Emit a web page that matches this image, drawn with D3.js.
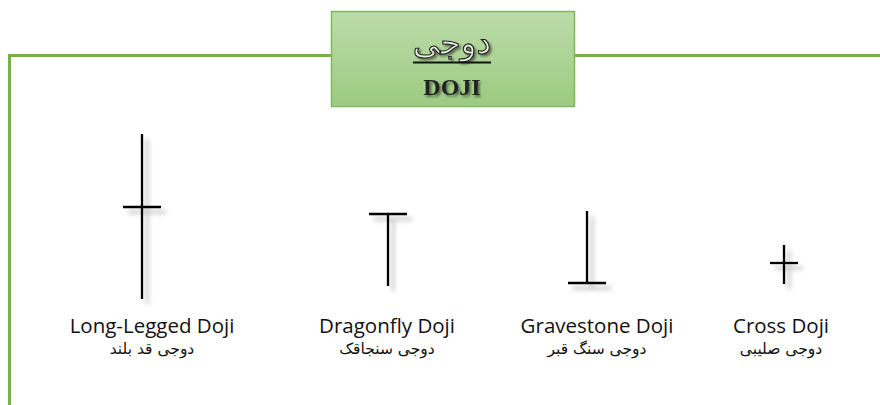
<!DOCTYPE html>
<html>
<head>
<meta charset="utf-8">
<script src="https://cdn.jsdelivr.net/npm/d3@7"></script>
<style>
  html, body { margin: 0; padding: 0; background: #fff; overflow: hidden; }
</style>
</head>
<body>
<div id="chart"></div>
<script>
// Data
var categories = ['Long-Legged Doji', 'Dragonfly Doji', 'Gravestone Doji', 'Cross Doji'];
var persianNames = ['دوجی قد بلند', 'دوجی سنجاقک', 'دوجی سنگ قبر', 'دوجی صلیبی'];
var highs = [166, 86, 89, 55];
var lows = [1, 14, 17, 16];
var bodies = [93, 86, 17, 37]; // open == close
var titleFa = 'دوجی';
var titleEn = 'DOJI';

function Chart() {
	// Exposed variables
	var attrs = {
		id: 'ID' + Math.floor(Math.random() * 1000000),
		svgWidth: 880,
		svgHeight: 405,
		container: 'body',
		defaultTextFill: '#111',
		defaultFont: '"Open Sans", "Noto Sans", sans-serif',
		frameColor: '#74b04c',
		data: null
	};

	var main = function() {
		var container = d3.select(attrs.container);
		var data = attrs.data;

		var svg = container
			.patternify({ tag: 'svg', selector: 'svg-chart-container' })
			.attr('width', attrs.svgWidth)
			.attr('height', attrs.svgHeight)
			.attr('font-family', attrs.defaultFont)
			.style('display', 'block');

		// defs: shadow + gradient
		var defs = svg.patternify({ tag: 'defs', selector: 'defs' });
		var shadow = defs.patternify({ tag: 'filter', selector: 'shadow' })
			.attr('id', 'shadow')
			.attr('x', '-50%').attr('y', '-50%')
			.attr('width', '200%').attr('height', '200%');
		shadow.patternify({ tag: 'feGaussianBlur', selector: 'blur' })
			.attr('in', 'SourceAlpha').attr('stdDeviation', 2.8).attr('result', 'b');
		shadow.patternify({ tag: 'feOffset', selector: 'off' })
			.attr('in', 'b').attr('dx', 5).attr('dy', 5).attr('result', 'o');
		shadow.patternify({ tag: 'feComponentTransfer', selector: 'ct' })
			.attr('in', 'o').attr('result', 'c')
			.patternify({ tag: 'feFuncA', selector: 'fa' })
			.attr('type', 'linear').attr('slope', 0.3);
		var merge = shadow.patternify({ tag: 'feMerge', selector: 'mrg' });
		merge.patternify({ tag: 'feMergeNode', selector: 'mn', data: ['c', 'SourceGraphic'] })
			.attr('in', (d) => d);

		var tshadow = defs.patternify({ tag: 'filter', selector: 'tshadow' })
			.attr('id', 'tshadow')
			.attr('x', '-20%').attr('y', '-20%')
			.attr('width', '140%').attr('height', '140%');
		tshadow.patternify({ tag: 'feGaussianBlur', selector: 'blur' })
			.attr('in', 'SourceAlpha').attr('stdDeviation', 0.8).attr('result', 'b');
		tshadow.patternify({ tag: 'feOffset', selector: 'off' })
			.attr('in', 'b').attr('dx', 1.5).attr('dy', 1.5).attr('result', 'o');
		tshadow.patternify({ tag: 'feComponentTransfer', selector: 'ct' })
			.attr('in', 'o').attr('result', 'c')
			.patternify({ tag: 'feFuncA', selector: 'fa' })
			.attr('type', 'linear').attr('slope', 0.45);
		tshadow.patternify({ tag: 'feMerge', selector: 'mrg' })
			.patternify({ tag: 'feMergeNode', selector: 'mn', data: ['c', 'SourceGraphic'] })
			.attr('in', (d) => d);

		var grad = defs.patternify({ tag: 'linearGradient', selector: 'grad' })
			.attr('id', 'titleGrad')
			.attr('x1', 0).attr('y1', 0).attr('x2', 0).attr('y2', 1);
		grad.patternify({ tag: 'stop', selector: 'stop', data: [
			{ o: '0%', c: '#bcdba9' },
			{ o: '100%', c: '#9ccb81' }
		] })
			.attr('offset', (d) => d.o)
			.attr('stop-color', (d) => d.c);

		// Frame (top + left edges)
		svg.patternify({ tag: 'path', selector: 'frame' })
			.attr('d', 'M9.5,405 V55.5 H880')
			.attr('fill', 'none')
			.attr('stroke', attrs.frameColor)
			.attr('stroke-width', 3);

		// Title box
		var title = svg.patternify({ tag: 'g', selector: 'title' });
		title.patternify({ tag: 'rect', selector: 'title-box' })
			.attr('x', 331.5).attr('y', 11.5)
			.attr('width', 243).attr('height', 95)
			.attr('fill', 'url(#titleGrad)')
			.attr('stroke', '#7fb85f')
			.attr('stroke-width', 1.5);
		title.patternify({ tag: 'text', selector: 'title-fa' })
			.text(titleFa)
			.attr('x', 452).attr('y', 54)
			.attr('text-anchor', 'middle')
			.attr('direction', 'rtl')
			.attr('font-family', '"DejaVu Sans", sans-serif')
			.attr('font-size', 33)
			.attr('fill', '#e8efe0')
			.attr('stroke', '#222')
			.attr('stroke-width', 1.1)
			.attr('filter', 'url(#tshadow)');
		title.patternify({ tag: 'line', selector: 'title-ul' })
			.attr('x1', 413).attr('x2', 491)
			.attr('y1', 62.5).attr('y2', 62.5)
			.attr('stroke', '#111').attr('stroke-width', 2);
		title.patternify({ tag: 'text', selector: 'title-en' })
			.text(titleEn)
			.attr('x', 452).attr('y', 95)
			.attr('text-anchor', 'middle')
			.attr('font-family', '"Liberation Serif", serif')
			.attr('font-weight', 'bold')
			.attr('font-size', 24)
			.attr('fill', '#222')
			.attr('filter', 'url(#tshadow)');

		// Scales
		var x = d3.scaleOrdinal().domain(categories).range([142, 388, 587, 784]);
		var y = d3.scaleLinear().domain([0, 170]).range([300, 130]);
		var halfWidth = { 'Long-Legged Doji': 19, 'Dragonfly Doji': 19, 'Gravestone Doji': 19, 'Cross Doji': 14 };

		var candles = svg.patternify({ tag: 'g', selector: 'candle', data: data })
			.attr('filter', 'url(#shadow)');
		candles.patternify({ tag: 'line', selector: 'wick', data: (d) => [d] })
			.attr('x1', (d) => x(d.name)).attr('x2', (d) => x(d.name))
			.attr('y1', (d) => y(d.high)).attr('y2', (d) => y(d.low))
			.attr('stroke', '#000').attr('stroke-width', 2.3);
		candles.patternify({ tag: 'line', selector: 'body', data: (d) => [d] })
			.attr('x1', (d) => x(d.name) - halfWidth[d.name])
			.attr('x2', (d) => x(d.name) + halfWidth[d.name])
			.attr('y1', (d) => y(d.body)).attr('y2', (d) => y(d.body))
			.attr('stroke', '#000').attr('stroke-width', 2.3);

		// Labels
		var labelX = d3.scaleOrdinal().domain(categories).range([152, 387, 597, 781]);
		svg.patternify({ tag: 'text', selector: 'label-en', data: data })
			.text((d) => d.name)
			.attr('x', (d) => labelX(d.name))
			.attr('y', 333)
			.attr('text-anchor', 'middle')
			.attr('font-size', 20.5)
			.attr('fill', attrs.defaultTextFill);
		svg.patternify({ tag: 'text', selector: 'label-fa', data: data })
			.text((d) => d.fa)
			.attr('x', (d) => labelX(d.name))
			.attr('y', 354)
			.attr('text-anchor', 'middle')
			.attr('direction', 'rtl')
			.attr('font-family', '"DejaVu Sans", sans-serif')
			.attr('font-size', 15.5)
			.attr('fill', attrs.defaultTextFill);
	};

	//----------- PROTOTYPE FUNCTIONS  ----------------------
	d3.selection.prototype.patternify = function(params) {
		var container = this;
		var selector = params.selector;
		var elementTag = params.tag;
		var data = params.data || [ selector ];

		var selection = container.selectAll('.' + selector).data(data, (d, i) => {
			if (typeof d === 'object' && d && d.id) return d.id;
			return i;
		});
		selection.exit().remove();
		selection = selection.enter().append(elementTag).merge(selection);
		selection.attr('class', selector);
		return selection;
	};

	Object.keys(attrs).forEach((key) => {
		main[key] = function(_) {
			if (!arguments.length) return attrs[key];
			attrs[key] = _;
			return main;
		};
	});

	main.render = function() {
		main();
		return main;
	};

	return main;
}

var candleData = categories.map((c, i) => ({
	name: c,
	fa: persianNames[i],
	high: highs[i],
	low: lows[i],
	body: bodies[i]
}));

Chart().container('#chart').data(candleData).render();
</script>
</body>
</html>
